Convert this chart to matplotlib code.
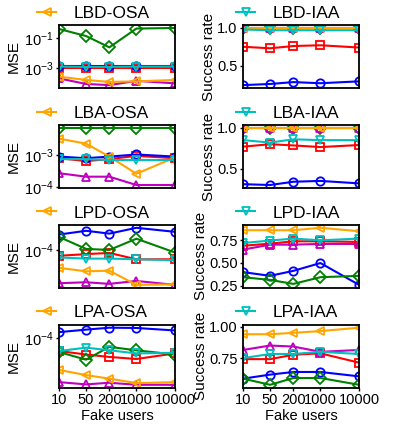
import matplotlib
matplotlib.use("Agg")
import matplotlib.pyplot as plt
from matplotlib.lines import Line2D
from matplotlib.ticker import NullLocator, FormatStrFormatter

# ───────────────────────── data ───────────────────────── #

fake_users = [10, 50, 200, 1000, 10000]
tick_labels = ["10", "50", "200", "1000", "10000"]
protocols = ["LBD", "LBA", "LPD", "LPA"]

# MSE (left column), one dict per protocol
mse_lbd = {
    "red":     [9.0e-4, 9.0e-4, 9.0e-4, 9.0e-4, 9.0e-4],
    "blue":    [1.4e-3, 1.4e-3, 1.4e-3, 1.4e-3, 1.4e-3],
    "green":   [0.42, 0.14, 0.024, 0.45, 0.49],
    "magenta": [1.9e-4, 8.0e-5, 6.7e-5, 1.3e-4, 8.8e-5],
    "OSA":     [2.5e-4, 1.5e-4, 1.1e-4, 1.2e-4, 1.5e-4],
    "IAA":     [1.2e-3, 1.15e-3, 1.15e-3, 1.2e-3, 1.2e-3],
}
mse_lba = {
    "red":     [8.0e-4, 6.5e-4, 7.5e-4, 9.5e-4, 8.0e-4],
    "blue":    [9.0e-4, 8.0e-4, 9.0e-4, 1.05e-3, 9.0e-4],
    "green":   [7.2e-3, 7.2e-3, 7.2e-3, 7.2e-3, 7.2e-3],
    "magenta": [2.7e-4, 2.1e-4, 2.1e-4, 1.15e-4, 1.15e-4],
    "OSA":     [3.3e-3, 2.3e-3, 9.0e-4, 2.6e-4, 8.5e-4],
    "IAA":     [7.5e-4, 7.5e-4, 7.0e-4, 7.0e-4, 7.0e-4],
}
mse_lpd = {
    "red":     [8.5e-5, 8.9e-5, 9.2e-5, 7.7e-5, 7.7e-5],
    "blue":    [1.54e-4, 1.71e-4, 1.58e-4, 1.86e-4, 1.66e-4],
    "green":   [1.44e-4, 1.03e-4, 1.0e-4, 1.37e-4, 9.3e-5],
    "magenta": [3.94e-5, 4.05e-5, 3.87e-5, 4.2e-5, 3.76e-5],
    "OSA":     [6.06e-5, 5.5e-5, 5.6e-5, 3.76e-5, 3.82e-5],
    "IAA":     [8.1e-5, 7.85e-5, 7.85e-5, 7.7e-5, 7.5e-5],
}
mse_lpa = {
    "red":     [6.94e-5, 6.3e-5, 5.89e-5, 5.56e-5, 6.5e-5],
    "blue":    [1.175e-4, 1.26e-4, 1.33e-4, 1.32e-4, 1.23e-4],
    "green":   [6.74e-5, 5.46e-5, 7.8e-5, 7.08e-5, 6.3e-5],
    "magenta": [2.92e-5, 2.74e-5, 2.87e-5, 2.71e-5, 2.71e-5],
    "OSA":     [4.1e-5, 3.55e-5, 3.22e-5, 2.84e-5, 2.92e-5],
    "IAA":     [6.94e-5, 7.63e-5, 7.08e-5, 6.5e-5, 6.6e-5],
}

# Success rate (right column)
sr_lbd = {
    "red":     [0.75, 0.73, 0.76, 0.77, 0.74],
    "blue":    [0.24, 0.255, 0.28, 0.265, 0.29],
    "green":   [1.0, 1.0, 1.0, 1.0, 1.0],
    "magenta": [0.995, 0.995, 0.995, 0.995, 0.995],
    "OSA":     [1.0, 1.0, 1.0, 1.0, 1.0],
    "IAA":     [0.98, 0.97, 0.97, 0.97, 0.97],
}
sr_lba = {
    "red":     [0.77, 0.80, 0.785, 0.765, 0.79],
    "blue":    [0.31, 0.30, 0.34, 0.35, 0.32],
    "green":   [1.0, 1.0, 1.0, 1.0, 1.0],
    "magenta": [1.0, 1.0, 1.0, 1.0, 1.0],
    "OSA":     [1.0, 1.0, 1.0, 1.0, 1.0],
    "IAA":     [0.85, 0.82, 0.86, 0.85, 0.85],
}
sr_lpd = {
    "red":     [0.69, 0.713, 0.739, 0.739, 0.732],
    "blue":    [0.399, 0.358, 0.413, 0.499, 0.258],
    "green":   [0.343, 0.313, 0.269, 0.343, 0.358],
    "magenta": [0.647, 0.702, 0.702, 0.71, 0.71],
    "OSA":     [0.861, 0.861, 0.861, 0.888, 0.85],
    "IAA":     [0.72, 0.747, 0.769, 0.75, 0.769],
}
sr_lpa = {
    "red":     [0.742, 0.742, 0.777, 0.788, 0.714],
    "blue":    [0.587, 0.619, 0.64, 0.64, 0.605],
    "green":   [0.587, 0.538, 0.592, 0.592, 0.538],
    "magenta": [0.815, 0.85, 0.842, 0.80, 0.815],
    "OSA":     [0.94, 0.94, 0.951, 0.965, 0.992],
    "IAA":     [0.75, 0.783, 0.783, 0.80, 0.783],
}

mse_panels = [mse_lbd, mse_lba, mse_lpd, mse_lpa]
sr_panels = [sr_lbd, sr_lba, sr_lpd, sr_lpa]

mse_yticks = [[1e-1, 1e-3], [1e-3, 1e-4], [1e-4], [1e-4]]
sr_yticks = [[0.5, 1.0], [0.5, 1.0], [0.25, 0.5, 0.75], [0.75, 1.0]]
sr_fmt = ["%.1f", "%.1f", "%.2f", "%.2f"]

# ───────────────────────── style ───────────────────────── #

STYLE = {
    "red":     dict(color="red", marker="s"),
    "blue":    dict(color="blue", marker="o"),
    "green":   dict(color="green", marker="D"),
    "magenta": dict(color="m", marker="^"),
    "OSA":     dict(color="orange", marker="<"),
    "IAA":     dict(color="c", marker="v"),
}

plt.rcParams["font.family"] = ["Liberation Sans", "DejaVu Sans"]
plt.rcParams["mathtext.default"] = "regular"


def draw(ax, series):
    for name, vals in series.items():
        st = STYLE[name]
        ax.plot(fake_users, vals, color=st["color"], marker=st["marker"],
                lw=1.5, ms=6, mew=1.3, mfc="none")


def add_legend(ax, name, key, x0):
    st = STYLE[key]
    h = Line2D([], [], color=st["color"], marker=st["marker"], lw=1.5,
               ms=6, mew=1.3, mfc="none")
    ax.legend([h], [name], loc="center left", bbox_to_anchor=(x0, 1.19),
              frameon=False, fontsize=12.5, handlelength=1.1,
              handletextpad=1.0, borderaxespad=0)


fig, axes = plt.subplots(4, 2, figsize=(3.99, 4.26), dpi=100, sharex=True)
fig.subplots_adjust(left=0.148, right=0.9, top=0.941, bottom=0.09,
                    wspace=0.586, hspace=0.59)

for i, proto in enumerate(protocols):
    axl, axr = axes[i]

    draw(axl, mse_panels[i])
    axl.set_yscale("log")
    axl.set_yticks(mse_yticks[i])
    axl.yaxis.set_minor_locator(NullLocator())
    axl.set_ylabel("MSE", fontsize=11, labelpad=2)
    add_legend(axl, f"{proto}-OSA", "OSA", -0.25)

    draw(axr, sr_panels[i])
    axr.set_yticks(sr_yticks[i])
    axr.yaxis.set_major_formatter(FormatStrFormatter(sr_fmt[i]))
    axr.set_ylabel("Success rate", fontsize=11, labelpad=1)
    add_legend(axr, f"{proto}-IAA", "IAA", -0.12)

    for ax in (axl, axr):
        ax.set_xscale("log")
        ax.set_xlim(10, 10000)
        ax.xaxis.set_minor_locator(NullLocator())
        for s in ax.spines.values():
            s.set_linewidth(1.3)
        ax.tick_params(labelsize=10.5, width=1, length=2.5, pad=1.5)
        if i < 3:
            ax.tick_params(axis="x", bottom=False, labelbottom=False)

for ax in axes[3]:
    ax.set_xticks(fake_users)
    ax.set_xticklabels(tick_labels)
    ax.set_xlabel("Fake users", fontsize=10.5, labelpad=1)

fig.savefig("out.png", dpi=100)
